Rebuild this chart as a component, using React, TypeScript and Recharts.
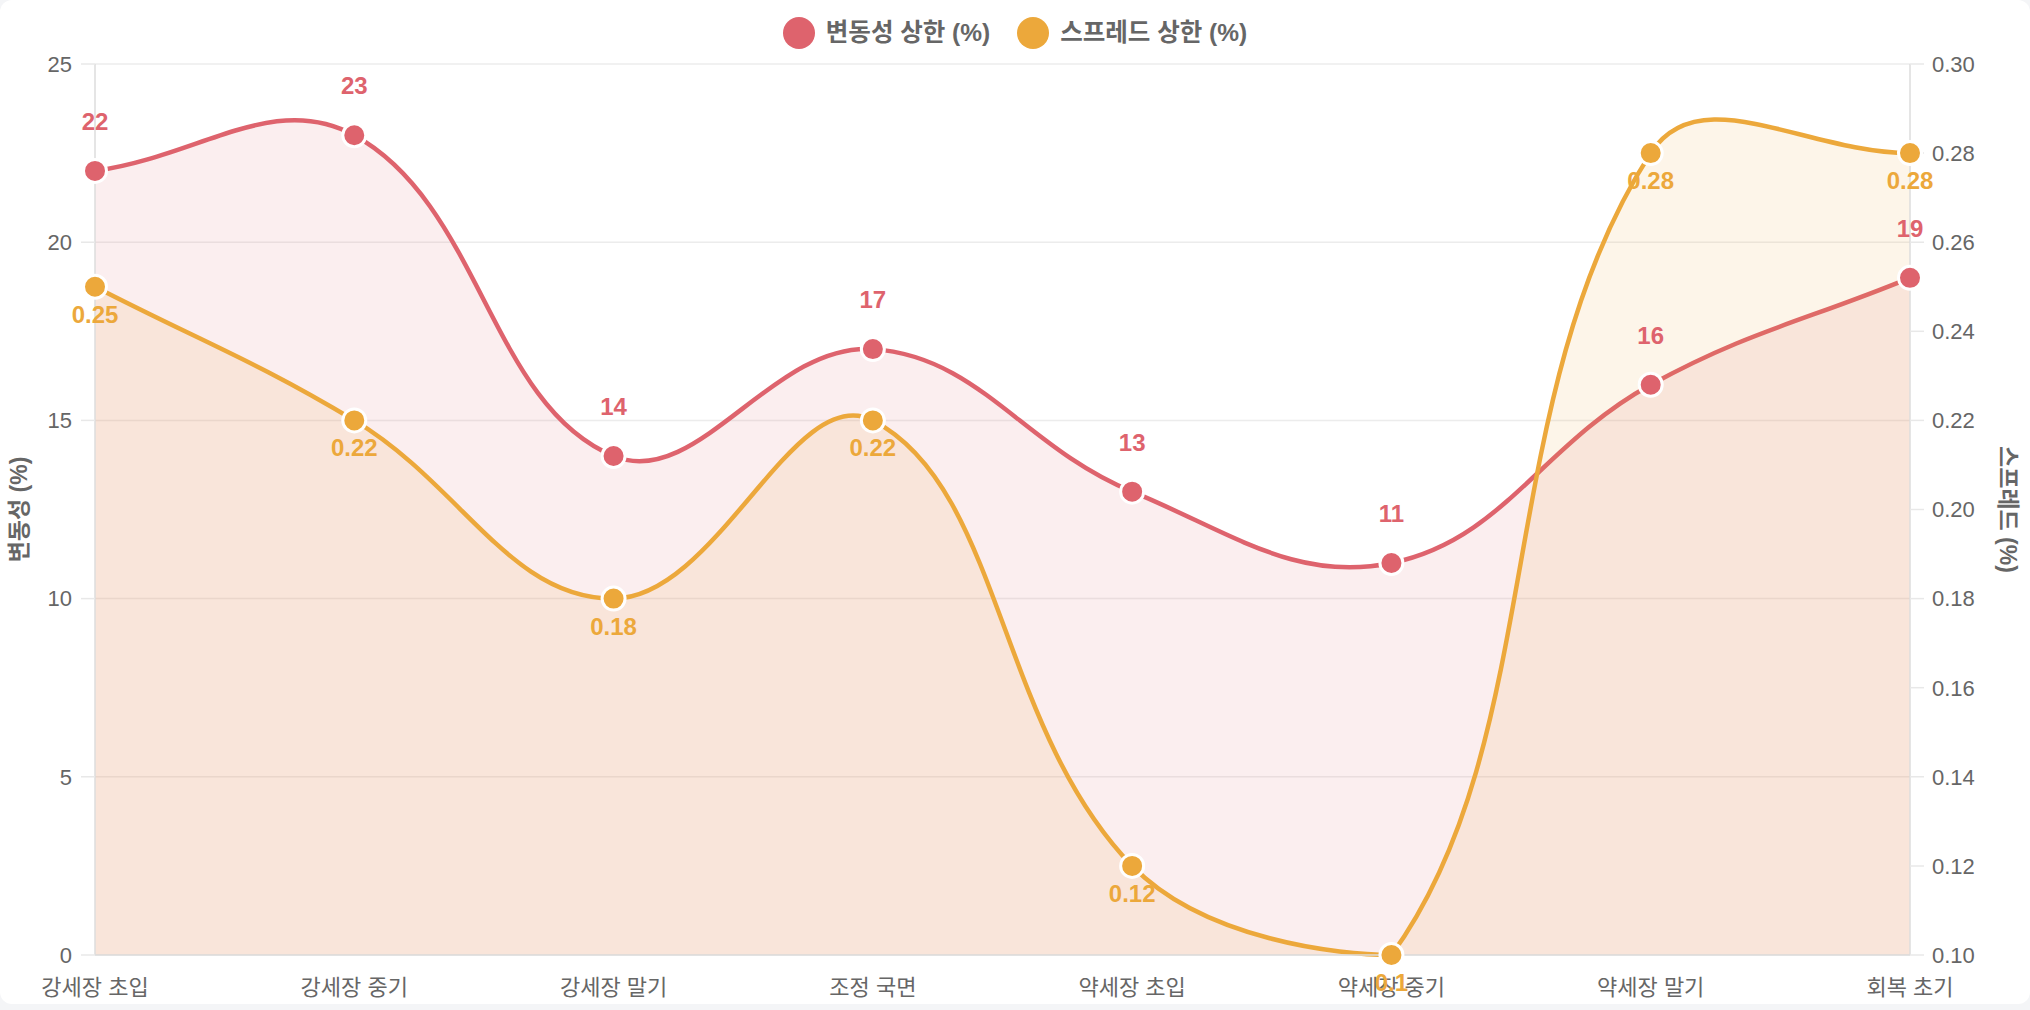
import React from 'react';
import {
  ComposedChart,
  Area,
  XAxis,
  YAxis,
  CartesianGrid,
  Legend,
  LabelList,
} from 'recharts';

// ---------- data ----------
const phases = ['강세장 초입', '강세장 중기', '강세장 말기', '조정 국면', '약세장 초입', '약세장 중기', '약세장 말기', '회복 초기'];
const volatilityCap = [22, 23, 14, 17, 13, 11, 16, 19];
const spreadCap = [0.25, 0.22, 0.18, 0.22, 0.12, 0.1, 0.28, 0.28];
const volTicks = [0, 5, 10, 15, 20, 25];
const spreadTicks = [0.1, 0.12, 0.14, 0.16, 0.18, 0.2, 0.22, 0.24, 0.26, 0.28, 0.3];
const volName = '변동성 상한 (%)';
const spreadName = '스프레드 상한 (%)';
const volAxisTitle = '변동성 (%)';
const spreadAxisTitle = '스프레드 (%)';

const data = phases.map((phase, i) => ({ phase, vol: volatilityCap[i], spread: spreadCap[i] }));

// ---------- layout / style ----------
const W = 2030;
const H = 1004;
const MARGIN_TOP = 8;
const LEGEND_H = 56;
const XAXIS_H = 49;
const LEFT_W = 95;
const RIGHT_W = 120;
const RED = '#de636d';
const ORANGE = '#eca83b';
const FONT = '"Liberation Sans", "Noto Sans CJK KR", sans-serif';

const PLOT = {
  left: LEFT_W,
  right: W - RIGHT_W,
  top: MARGIN_TOP + LEGEND_H,
  bottom: H - XAXIS_H,
};

// Chart.js-like spline (tension 0.4) with control points capped to the plot area
const makeSpline = (tension: number, area: { left: number; right: number; top: number; bottom: number }) =>
  (context: any) => {
    let pts: [number, number][] = [];
    let line = NaN;
    const cap = (v: number, lo: number, hi: number) => Math.max(Math.min(v, hi), lo);
    return {
      areaStart() { line = 0; },
      areaEnd() { line = NaN; },
      lineStart() { pts = []; },
      point(x: number, y: number) { pts.push([+x, +y]); },
      lineEnd() {
        const n = pts.length;
        if (n > 0) {
          if (line) context.lineTo(pts[0][0], pts[0][1]);
          else context.moveTo(pts[0][0], pts[0][1]);
          if (n > 1) {
            const cps = pts.map((cur, i) => {
              const prev = i > 0 ? pts[i - 1] : cur;
              const next = i < n - 1 ? pts[i + 1] : cur;
              const d01 = Math.hypot(cur[0] - prev[0], cur[1] - prev[1]);
              const d12 = Math.hypot(next[0] - cur[0], next[1] - cur[1]);
              let s01 = d01 / (d01 + d12);
              let s12 = d12 / (d01 + d12);
              if (isNaN(s01)) s01 = 0;
              if (isNaN(s12)) s12 = 0;
              const fa = tension * s01;
              const fb = tension * s12;
              const dx = next[0] - prev[0];
              const dy = next[1] - prev[1];
              return {
                px: cap(cur[0] - fa * dx, area.left, area.right),
                py: cap(cur[1] - fa * dy, area.top, area.bottom),
                nx: cap(cur[0] + fb * dx, area.left, area.right),
                ny: cap(cur[1] + fb * dy, area.top, area.bottom),
              };
            });
            for (let i = 0; i < n - 1; i++) {
              context.bezierCurveTo(cps[i].nx, cps[i].ny, cps[i + 1].px, cps[i + 1].py, pts[i + 1][0], pts[i + 1][1]);
            }
          }
        }
        if (line || (line !== 0 && n === 1)) context.closePath();
        line = 1 - line;
      },
    };
  };

const spline = makeSpline(0.4, PLOT);

const LegendContent = () => (
  <div
    style={{
      height: LEGEND_H,
      display: 'flex',
      justifyContent: 'center',
      alignItems: 'flex-start',
      paddingTop: 9,
      boxSizing: 'border-box',
      fontFamily: FONT,
      fontWeight: 700,
      fontSize: 24.5,
      color: '#666',
    }}
  >
    {[
      { name: volName, color: RED },
      { name: spreadName, color: ORANGE },
    ].map((item, i) => (
      <div key={i} style={{ display: 'flex', alignItems: 'center', marginLeft: i ? 27 : 0, height: 32 }}>
        <span style={{ width: 32, height: 32, borderRadius: 16, background: item.color, display: 'inline-block' }} />
        <span style={{ marginLeft: 11, whiteSpace: 'nowrap', lineHeight: '32px' }}>{item.name}</span>
      </div>
    ))}
  </div>
);

const tickStyle = { fill: '#666', fontSize: 22, fontFamily: FONT };
const labelStyle = { fontSize: 24, fontWeight: 700, fontFamily: FONT };

export default function App() {
  return (
    <div style={{ position: 'fixed', left: 0, top: 0, width: 2030, height: 1010, background: '#f4f5f7' }}>
      <div style={{ width: W, height: H, background: '#fff', borderRadius: 12, overflow: 'hidden' }}>
        <ComposedChart width={W} height={H} data={data} margin={{ top: MARGIN_TOP, right: 0, bottom: 0, left: 0 }}>
          <Legend verticalAlign="top" align="center" content={<LegendContent />} wrapperStyle={{ margin: 0, padding: 0 }} />
          <CartesianGrid yAxisId="left" vertical={false} stroke="#ececec" strokeWidth={1.5} />
          <XAxis
            dataKey="phase"
            interval={0}
            height={XAXIS_H}
            tickLine={false}
            tickSize={0}
            tickMargin={24}
            axisLine={{ stroke: '#dcdcdc', strokeWidth: 1.5 }}
            tick={tickStyle}
          />
          <YAxis
            yAxisId="left"
            orientation="left"
            width={LEFT_W}
            domain={[0, 25]}
            ticks={volTicks}
            interval={0}
            tickSize={14}
            tickMargin={9}
            tickLine={{ stroke: '#e8e8e8', strokeWidth: 1.5 }}
            axisLine={{ stroke: '#dcdcdc', strokeWidth: 1.5 }}
            tick={tickStyle}
            label={{
              value: volAxisTitle,
              angle: -90,
              position: 'insideLeft',
              offset: 19,
              style: { textAnchor: 'middle', fill: '#666', fontSize: 23, fontWeight: 700, fontFamily: FONT },
            }}
          />
          <YAxis
            yAxisId="right"
            orientation="right"
            width={RIGHT_W}
            domain={[0.1, 0.3]}
            ticks={spreadTicks}
            interval={0}
            tickSize={14}
            tickMargin={8}
            tickFormatter={(v: number) => v.toFixed(2)}
            tickLine={{ stroke: '#e8e8e8', strokeWidth: 1.5 }}
            axisLine={{ stroke: '#dcdcdc', strokeWidth: 1.5 }}
            tick={tickStyle}
            label={{
              value: spreadAxisTitle,
              angle: 90,
              position: 'insideRight',
              offset: 22,
              style: { textAnchor: 'middle', fill: '#666', fontSize: 23, fontWeight: 700, fontFamily: FONT },
            }}
          />
          <Area
            yAxisId="left"
            dataKey="vol"
            name={volName}
            type={spline as any}
            stroke={RED}
            strokeWidth={4.5}
            fill={RED}
            fillOpacity={0.11}
            dot={{ r: 11.5, fill: RED, stroke: '#fff', strokeWidth: 3, fillOpacity: 1 }}
            activeDot={false}
            isAnimationActive={false}
          >
            <LabelList dataKey="vol" position="top" offset={41} style={{ ...labelStyle, fill: RED }} />
          </Area>
          <Area
            yAxisId="right"
            dataKey="spread"
            name={spreadName}
            type={spline as any}
            stroke={ORANGE}
            strokeWidth={4.5}
            fill={ORANGE}
            fillOpacity={0.11}
            dot={{ r: 11.5, fill: ORANGE, stroke: '#fff', strokeWidth: 3, fillOpacity: 1 }}
            activeDot={false}
            isAnimationActive={false}
          >
            <LabelList dataKey="spread" position="bottom" offset={19} style={{ ...labelStyle, fill: ORANGE }} />
          </Area>
        </ComposedChart>
      </div>
    </div>
  );
}
